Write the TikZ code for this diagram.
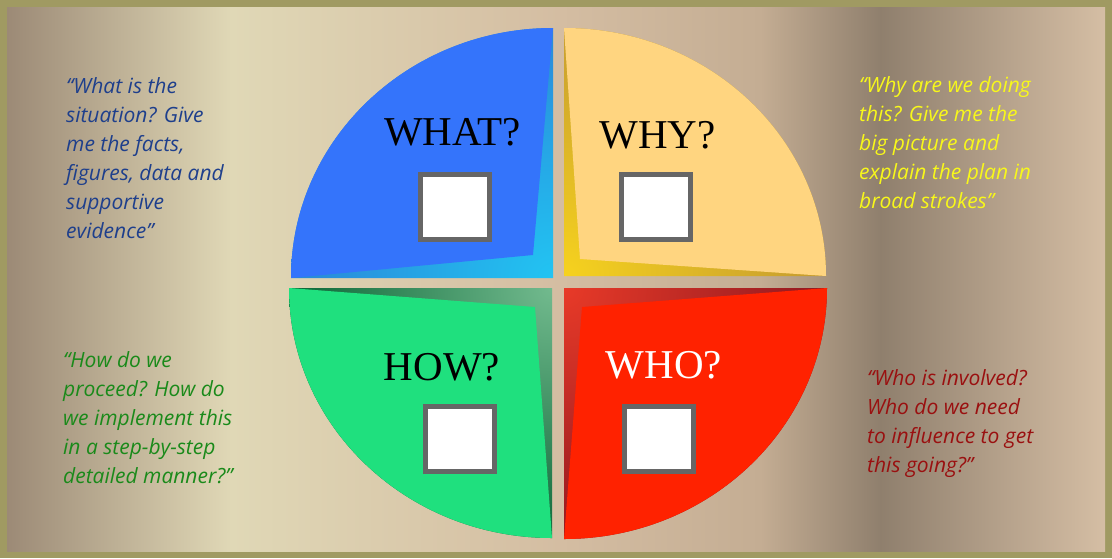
\documentclass[tikz,border=0pt]{standalone}
\usepackage{fontspec}
\setmainfont{Liberation Serif}
\newfontfamily\qfont{Open Sans}
\definecolor{frameol}{HTML}{A09A62}
\definecolor{bgA}{HTML}{9C8A76}
\definecolor{bgB}{HTML}{E0D8B6}
\definecolor{bgC}{HTML}{D4BDA2}
\definecolor{bgD}{HTML}{C4AD93}
\definecolor{bgE}{HTML}{8F7F6D}
\definecolor{bgF}{HTML}{D5BEA4}
\definecolor{blueL}{HTML}{3474FB}
\definecolor{blueIn}{HTML}{22C4F2}
\definecolor{blueOut}{HTML}{2A86D8}
\definecolor{yelL}{HTML}{FFD580}
\definecolor{yelIn}{HTML}{F6D21E}
\definecolor{yelOut}{HTML}{C49A30}
\definecolor{greenL}{HTML}{1FE07E}
\definecolor{greenIn}{HTML}{72BA8E}
\definecolor{greenOut}{HTML}{0A6636}
\definecolor{redL}{HTML}{FF2200}
\definecolor{redIn}{HTML}{E83A28}
\definecolor{redOut}{HTML}{901820}
\definecolor{boxgray}{HTML}{666666}
\definecolor{tblue}{HTML}{1E3F8C}
\definecolor{tyellow}{HTML}{F8F81A}
\definecolor{tgreen}{HTML}{1A8A1A}
\definecolor{tred}{HTML}{9A1010}
\begin{document}
\begin{tikzpicture}[x=1pt,y=-1pt,
  lab/.style={anchor=base, inner sep=0pt, font=\fontsize{41}{48}\selectfont},
  checkbox/.style={draw=boxgray, line width=5pt, fill=white, inner sep=0pt,
    minimum width=69pt, minimum height=65pt},
  quote/.style={anchor=base west, inner sep=0pt, align=left,
    font=\qfont\itshape\fontsize{21}{29}\selectfont}]
\useasboundingbox (0,0) rectangle (1112,558);
% frame and background
\fill[frameol] (0,0) rectangle (1112,558);
\shade[left color=bgA, right color=bgB] (7,7) rectangle (231,551);
\shade[left color=bgB, right color=bgC] (230,7) rectangle (561,551);
\shade[left color=bgC, right color=bgD] (560,7) rectangle (761,551);
\shade[left color=bgD, right color=bgE] (760,7) rectangle (881,551);
\shade[left color=bgE, right color=bgF] (880,7) rectangle (1105,551);
% WHAT (blue)
\begin{scope}
  \clip (553,278) -- (553,28) arc[start angle=270, end angle=180, x radius=262, y radius=250] -- cycle;
  \shade[inner color=blueIn, outer color=blueOut] (553,278) circle (262);
\end{scope}
\fill[blueL] (553,28) arc[start angle=270, end angle=180, x radius=262, y radius=250] -- (533,255) -- cycle;
% WHY (yellow)
\begin{scope}
  \clip (564,276) -- (564,28) arc[start angle=270, end angle=360, x radius=262, y radius=248] -- cycle;
  \shade[inner color=yelIn, outer color=yelOut] (564,276) circle (262);
\end{scope}
\fill[yelL] (564,28) arc[start angle=270, end angle=360, x radius=262, y radius=248] -- (580,259) -- cycle;
% HOW (green)
\begin{scope}
  \clip (552,288) -- (289,288) arc[start angle=180, end angle=90, x radius=263, y radius=250] -- cycle;
  \shade[inner color=greenIn, outer color=greenOut] (552,288) circle (263);
\end{scope}
\fill[greenL] (289,288) arc[start angle=180, end angle=90, x radius=263, y radius=250] -- (535,307) -- cycle;
% WHO (red)
\begin{scope}
  \clip (564,288) -- (827,288) arc[start angle=0, end angle=90, x radius=263, y radius=251] -- cycle;
  \shade[inner color=redIn, outer color=redOut] (564,288) circle (263);
\end{scope}
\fill[redL] (827,288) arc[start angle=0, end angle=90, x radius=263, y radius=251] -- (582,307) -- cycle;
% labels
\node[lab] (what) at (452.5,145) {WHAT?};
\node[lab] (why) at (657.5,148) {WHY?};
\node[lab] (how) at (442,380) {HOW?};
\node[lab, text=white] (who) at (664,378) {WHO?};
% check boxes
\node[checkbox] (whatbox) at (455,207) {};
\node[checkbox] (whybox) at (656,207) {};
\node[checkbox] (howbox) at (460,438.5) {};
\node[checkbox] (whobox) at (658.5,438.5) {};
% quotes (anchor = baseline of last line)
\node[quote, text=tblue] (whatq) at (66,238) {“What is the\\situation? Give\\me the facts,\\figures, data and\\supportive\\evidence”};
\node[quote, text=tyellow] (whyq) at (859,208) {“Why are we doing\\this? Give me the\\big picture and\\explain the plan in\\broad strokes”};
\node[quote, text=tgreen] (howq) at (63,483) {“How do we\\proceed? How do\\we implement this\\in a step-by-step\\detailed manner?”};
\node[quote, text=tred] (whoq) at (867,472) {“Who is involved?\\Who do we need\\to influence to get\\this going?”};
\end{tikzpicture}
\end{document}
